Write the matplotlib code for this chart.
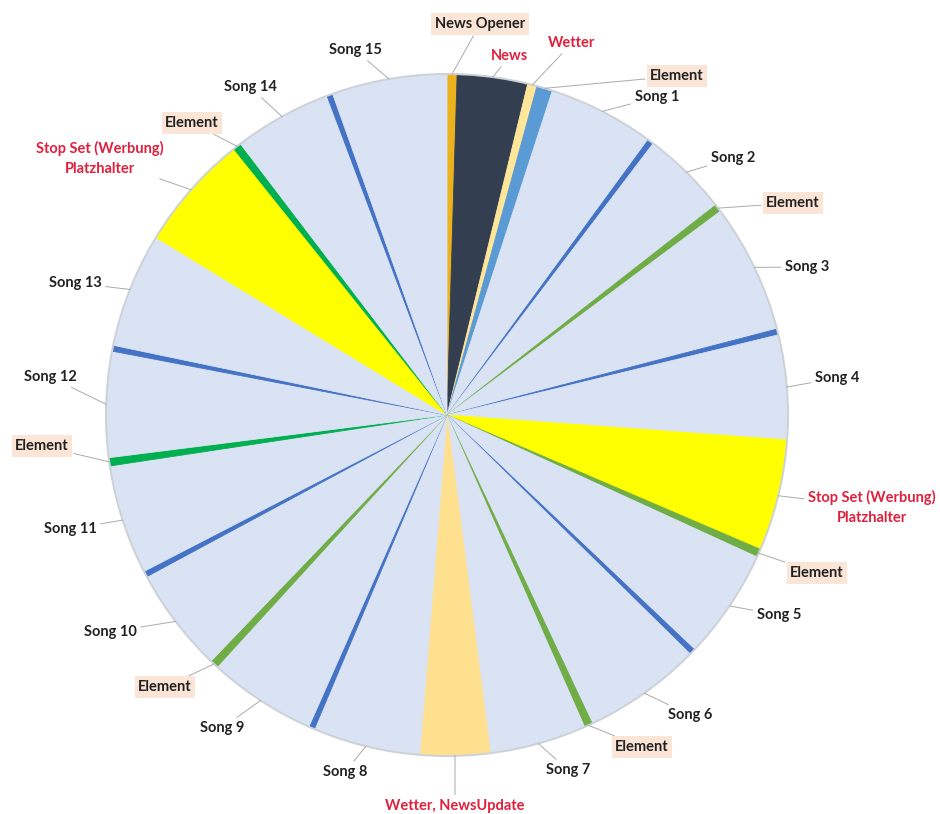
import numpy as np
import matplotlib
matplotlib.use('Agg')
import matplotlib.pyplot as plt

plt.rcParams['font.family'] = ['Lato', 'DejaVu Sans']

# Sendeuhr: Dauer je Element in Sekunden (eine Stunde = 3600 s)
names = ['News Opener', 'News', 'Wetter', 'Element', 'Song 1', '', 'Song 2', 'Element',
         'Song 3', '', 'Song 4', 'Stop Set (Werbung)\nPlatzhalter', 'Element', 'Song 5', '',
         'Song 6', 'Element', 'Song 7', 'Wetter, NewsUpdate', 'Song 8', '', 'Song 9',
         'Element', 'Song 10', '', 'Song 11', 'Element', 'Song 12', '', 'Song 13',
         'Stop Set (Werbung)\nPlatzhalter', 'Element', 'Song 14', '', 'Song 15']
seconds = [17, 120, 16, 27, 182, 10, 148, 13, 221, 10, 178, 190, 14, 189, 10,
           203, 14, 165, 119, 183, 10, 185, 14, 179, 10, 187, 14, 180, 10, 196,
           199, 14, 167, 10, 196]
kinds = ['opener', 'news', 'wetter', 'elem_blue', 'song', 'sep', 'song', 'elem',
         'song', 'sep', 'song', 'stopset', 'elem', 'song', 'sep',
         'song', 'elem', 'song', 'update', 'song', 'sep', 'song',
         'elem', 'song', 'sep', 'song', 'elem_dark', 'song', 'sep', 'song',
         'stopset', 'elem_dark', 'song', 'sep', 'song']

kind_color = {'opener': '#ecb21e', 'news': '#333f50', 'wetter': '#ffe699',
              'elem_blue': '#5b9bd5', 'song': '#dae3f3', 'sep': '#4472c4',
              'elem': '#70ad47', 'elem_dark': '#00b050', 'stopset': '#ffff00',
              'update': '#ffe08f'}
red_kinds = ('news', 'wetter', 'stopset', 'update')
boxed = ('opener', 'elem', 'elem_dark', 'elem_blue')

# Label-Positionen in Pixeln (Mitte des Textes), None = ohne Beschriftung
label_px = [(480, 24), (510, 56), (572, 43), (677, 76), (657, 97), None, (733, 158), (793, 203),
            (807, 267), None, (837, 378), (872, 507), (817, 573), (779, 615), None,
            (690, 715), (642, 747), (568, 770), (455, 806), (345, 772), None, (222, 728),
            (165, 687), (110, 632), None, (70, 529), (42, 446), (50, 377), None, (75, 283),
            (100, 158), (192, 123), (250, 87), None, (355, 50)]

W, H = 940, 814
cx, cy, R = 447, 415, 341

fig = plt.figure(figsize=(W / 100, H / 100), dpi=100)
ax = fig.add_axes([0, 0, 1, 1])

colors = [kind_color[k] for k in kinds]
wedges, _ = ax.pie(seconds, colors=colors, startangle=90, counterclock=False,
                   radius=1, wedgeprops=dict(linewidth=0.6))
for w in wedges:
    w.set_edgecolor(w.get_facecolor())

# Rand
ax.add_patch(plt.Circle((0, 0), 1.0, fill=False, ec='#cdd1d8', lw=1.4, zorder=3))

for w, name, kind, pos in zip(wedges, names, kinds, label_px):
    if pos is None:
        continue
    mid = np.deg2rad((w.theta1 + w.theta2) / 2)
    xy = (np.cos(mid), np.sin(mid))
    xt = ((pos[0] - cx) / R, (cy - pos[1]) / R)
    col = '#e0203c' if kind in red_kinds else '#222222'
    bbox = None
    if kind in boxed:
        bbox = dict(boxstyle='square,pad=0.25', fc='#fbe5d6', ec='none')
    ax.annotate(name, xy=xy, xytext=xt, ha='center', va='center', fontsize=10.5,
                fontweight='bold', color=col, bbox=bbox, linespacing=1.55,
                arrowprops=dict(arrowstyle='-', color='#aaaaaa', lw=0.7,
                                shrinkA=1, shrinkB=0))

ax.set_xlim(-cx / R, (W - cx) / R)
ax.set_ylim(-(H - cy) / R, cy / R)
ax.set_aspect('equal')
ax.axis('off')

fig.savefig('out.png', dpi=100, facecolor='white')
